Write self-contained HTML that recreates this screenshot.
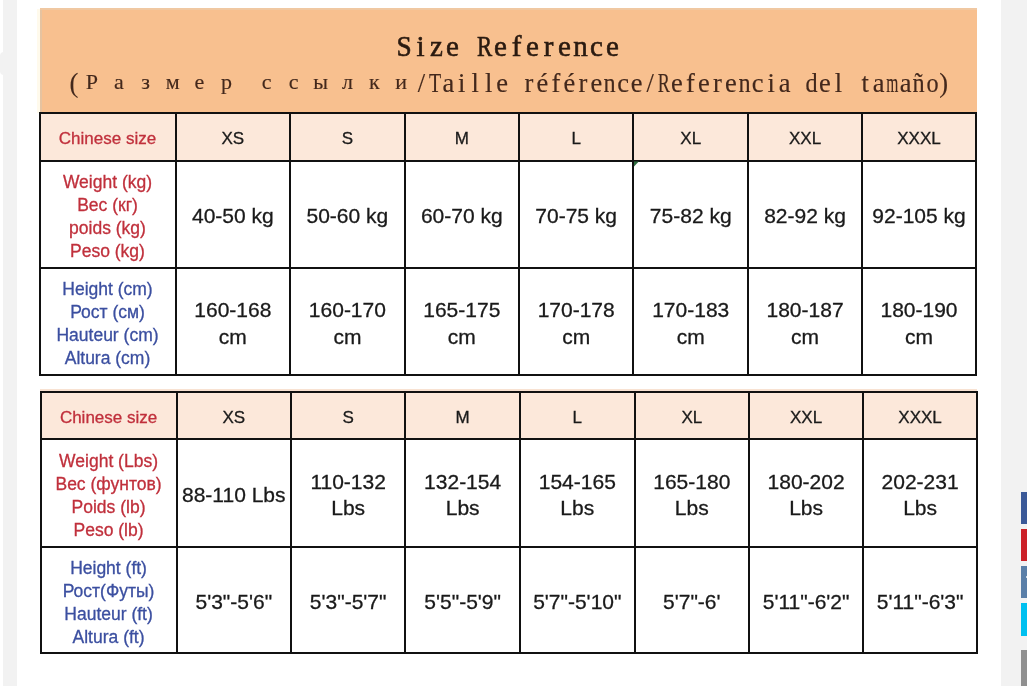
<!DOCTYPE html>
<html><head><meta charset="utf-8"><title>Size Reference</title>
<style>
*{margin:0;padding:0;box-sizing:border-box}
html,body{width:1027px;height:686px;overflow:hidden;background:#fff}
body{position:relative;font-family:"Liberation Sans",Arial,sans-serif}
.abs{position:absolute}
.ch{position:absolute;text-align:center;display:block;font-family:"Liberation Serif","Noto Serif CJK SC",serif;}
.t{color:#2a1a10;-webkit-text-stroke:0.6px #2a1a10}
.s{color:#43281c;-webkit-text-stroke:0.15px #43281c}
.bg,.ln,.cell{position:absolute}
.ln{background:#111}
.cell{display:flex;align-items:center;justify-content:center;text-align:center}
.cell>div{position:relative}
.hl{color:#c0303c;font-size:17px}
.hl>div{top:2px}
.hd{color:#1a1a1a;font-size:17px}
.hd>div{top:2px}
.rl{color:#c0303c;font-size:17.5px;line-height:23px}
.bl{color:#3b4fa0;font-size:17.5px;line-height:23px}
.rl>div,.bl>div{top:3px}
.dt{color:#1a1a1a;font-size:21px;line-height:26.5px}
.dt>div{top:2.5px}
.cell{-webkit-text-stroke:0.3px currentColor}
</style></head>
<body>
<div class="abs" style="left:3px;top:0;width:14px;height:686px;background:#f2f2f2"></div>
<div class="abs" style="left:0;top:52px;width:17px;height:23px;background:#f2f2f2;border-radius:4px 0 0 4px"></div>
<div class="abs" style="left:1001px;top:0;width:26px;height:686px;background:#f2f2f2"></div>
<div class="abs" style="left:1021px;top:491.5px;width:10px;height:32.5px;background:#3b5998"></div>
<div class="abs" style="left:1021px;top:529px;width:10px;height:32px;background:#cb2027"></div>
<div class="abs" style="left:1021px;top:565.5px;width:10px;height:32.5px;background:#5a7fa8"></div>
<div class="abs" style="left:1021px;top:603px;width:10px;height:32.5px;background:#00c0f0"></div>
<div class="abs" style="left:1021px;top:650px;width:10px;height:50px;background:#909090"></div>
<div class="abs" style="left:1025.5px;top:576px;width:2px;height:2px;background:#f4f6fa;border-radius:1px"></div>
<div class="abs" style="left:40px;top:9px;width:937px;height:104px;background:#f8c08f"></div>
<div class="abs" style="left:37px;top:9px;width:3px;height:104px;background:#fffaec"></div>
<div class="abs" style="left:40px;top:9px;width:2px;height:104px;background:#e6c3a0"></div>
<div class="abs" style="left:40px;top:8px;width:937px;height:1.5px;background:#f0c8a2"></div>
<span class="ch t" style="left:396.44px;top:31.51px;width:16.13px;font-size:29px;line-height:29px;transform:scaleX(0.942)">S</span><span class="ch t" style="left:412.50px;top:31.51px;width:16.00px;font-size:29px;line-height:29px">i</span><span class="ch t" style="left:428.50px;top:31.51px;width:16.00px;font-size:29px;line-height:29px">z</span><span class="ch t" style="left:444.50px;top:31.51px;width:16.00px;font-size:29px;line-height:29px">e</span><span class="ch t" style="left:474.83px;top:31.51px;width:19.34px;font-size:29px;line-height:29px;transform:scaleX(0.786)">R</span><span class="ch t" style="left:492.50px;top:31.51px;width:16.00px;font-size:29px;line-height:29px">e</span><span class="ch t" style="left:508.50px;top:31.51px;width:16.00px;font-size:29px;line-height:29px">f</span><span class="ch t" style="left:524.50px;top:31.51px;width:16.00px;font-size:29px;line-height:29px">e</span><span class="ch t" style="left:540.50px;top:31.51px;width:16.00px;font-size:29px;line-height:29px">r</span><span class="ch t" style="left:556.50px;top:31.51px;width:16.00px;font-size:29px;line-height:29px">e</span><span class="ch t" style="left:572.50px;top:31.51px;width:16.00px;font-size:29px;line-height:29px">n</span><span class="ch t" style="left:588.50px;top:31.51px;width:16.00px;font-size:29px;line-height:29px">c</span><span class="ch t" style="left:604.50px;top:31.51px;width:16.00px;font-size:29px;line-height:29px">e</span>
<span class="ch s" style="left:65.00px;top:69.91px;width:13.45px;font-size:26.5px;line-height:26.5px;text-align:right">(</span><span class="ch s" style="left:78.45px;top:70.78px;width:26.90px;font-size:22px;line-height:22px">Р</span><span class="ch s" style="left:105.35px;top:70.78px;width:26.90px;font-size:22px;line-height:22px">а</span><span class="ch s" style="left:132.25px;top:70.78px;width:26.90px;font-size:22px;line-height:22px">з</span><span class="ch s" style="left:159.15px;top:70.78px;width:26.90px;font-size:22px;line-height:22px">м</span><span class="ch s" style="left:186.05px;top:70.78px;width:26.90px;font-size:22px;line-height:22px">е</span><span class="ch s" style="left:212.95px;top:70.78px;width:26.90px;font-size:22px;line-height:22px">р</span><span class="ch s" style="left:253.30px;top:70.78px;width:26.90px;font-size:22px;line-height:22px">с</span><span class="ch s" style="left:280.20px;top:70.78px;width:26.90px;font-size:22px;line-height:22px">с</span><span class="ch s" style="left:307.10px;top:70.78px;width:26.90px;font-size:22px;line-height:22px">ы</span><span class="ch s" style="left:334.00px;top:70.78px;width:26.90px;font-size:22px;line-height:22px">л</span><span class="ch s" style="left:360.90px;top:70.78px;width:26.90px;font-size:22px;line-height:22px">к</span><span class="ch s" style="left:387.80px;top:70.78px;width:26.90px;font-size:22px;line-height:22px">и</span><span class="ch s" style="left:414.70px;top:69.91px;width:13.45px;font-size:26.5px;line-height:26.5px">/</span><span class="ch s" style="left:426.78px;top:69.91px;width:16.19px;font-size:26.5px;line-height:26.5px;transform:scaleX(0.748)">T</span><span class="ch s" style="left:441.60px;top:69.91px;width:13.45px;font-size:26.5px;line-height:26.5px">a</span><span class="ch s" style="left:455.05px;top:69.91px;width:13.45px;font-size:26.5px;line-height:26.5px">i</span><span class="ch s" style="left:468.50px;top:69.91px;width:13.45px;font-size:26.5px;line-height:26.5px">l</span><span class="ch s" style="left:481.95px;top:69.91px;width:13.45px;font-size:26.5px;line-height:26.5px">l</span><span class="ch s" style="left:495.40px;top:69.91px;width:13.45px;font-size:26.5px;line-height:26.5px">e</span><span class="ch s" style="left:522.30px;top:69.91px;width:13.45px;font-size:26.5px;line-height:26.5px">r</span><span class="ch s" style="left:535.75px;top:69.91px;width:13.45px;font-size:26.5px;line-height:26.5px">é</span><span class="ch s" style="left:549.20px;top:69.91px;width:13.45px;font-size:26.5px;line-height:26.5px">f</span><span class="ch s" style="left:562.65px;top:69.91px;width:13.45px;font-size:26.5px;line-height:26.5px">é</span><span class="ch s" style="left:576.10px;top:69.91px;width:13.45px;font-size:26.5px;line-height:26.5px">r</span><span class="ch s" style="left:589.55px;top:69.91px;width:13.45px;font-size:26.5px;line-height:26.5px">e</span><span class="ch s" style="left:603.10px;top:69.91px;width:13.25px;font-size:26.5px;line-height:26.5px;transform:scaleX(0.914)">n</span><span class="ch s" style="left:616.45px;top:69.91px;width:13.45px;font-size:26.5px;line-height:26.5px">c</span><span class="ch s" style="left:629.90px;top:69.91px;width:13.45px;font-size:26.5px;line-height:26.5px">e</span><span class="ch s" style="left:643.35px;top:69.91px;width:13.45px;font-size:26.5px;line-height:26.5px">/</span><span class="ch s" style="left:654.69px;top:69.91px;width:17.68px;font-size:26.5px;line-height:26.5px;transform:scaleX(0.685)">R</span><span class="ch s" style="left:670.25px;top:69.91px;width:13.45px;font-size:26.5px;line-height:26.5px">e</span><span class="ch s" style="left:683.70px;top:69.91px;width:13.45px;font-size:26.5px;line-height:26.5px">f</span><span class="ch s" style="left:697.15px;top:69.91px;width:13.45px;font-size:26.5px;line-height:26.5px">e</span><span class="ch s" style="left:710.60px;top:69.91px;width:13.45px;font-size:26.5px;line-height:26.5px">r</span><span class="ch s" style="left:724.05px;top:69.91px;width:13.45px;font-size:26.5px;line-height:26.5px">e</span><span class="ch s" style="left:737.60px;top:69.91px;width:13.25px;font-size:26.5px;line-height:26.5px;transform:scaleX(0.914)">n</span><span class="ch s" style="left:750.95px;top:69.91px;width:13.45px;font-size:26.5px;line-height:26.5px">c</span><span class="ch s" style="left:764.40px;top:69.91px;width:13.45px;font-size:26.5px;line-height:26.5px">i</span><span class="ch s" style="left:777.85px;top:69.91px;width:13.45px;font-size:26.5px;line-height:26.5px">a</span><span class="ch s" style="left:804.85px;top:69.91px;width:13.25px;font-size:26.5px;line-height:26.5px;transform:scaleX(0.914)">d</span><span class="ch s" style="left:818.20px;top:69.91px;width:13.45px;font-size:26.5px;line-height:26.5px">e</span><span class="ch s" style="left:831.65px;top:69.91px;width:13.45px;font-size:26.5px;line-height:26.5px">l</span><span class="ch s" style="left:858.55px;top:69.91px;width:13.45px;font-size:26.5px;line-height:26.5px">t</span><span class="ch s" style="left:872.00px;top:69.91px;width:13.45px;font-size:26.5px;line-height:26.5px">a</span><span class="ch s" style="left:881.87px;top:69.91px;width:20.61px;font-size:26.5px;line-height:26.5px;transform:scaleX(0.587)">m</span><span class="ch s" style="left:898.90px;top:69.91px;width:13.45px;font-size:26.5px;line-height:26.5px">a</span><span class="ch s" style="left:912.45px;top:69.91px;width:13.25px;font-size:26.5px;line-height:26.5px;transform:scaleX(0.914)">ñ</span><span class="ch s" style="left:925.90px;top:69.91px;width:13.25px;font-size:26.5px;line-height:26.5px;transform:scaleX(0.914)">o</span><span class="ch s" style="left:939.25px;top:69.91px;width:13.45px;font-size:26.5px;line-height:26.5px;text-align:left">)</span>
<div class="bg" style="left:39.5px;top:113px;width:936.5px;height:47.5px;background:#fce8da"></div>
<div class="cell hl" style="left:39.5px;top:113px;width:136.0px;height:47.5px"><div>Chinese size</div></div>
<div class="cell hd" style="left:175.5px;top:113px;width:114.69999999999999px;height:47.5px"><div>XS</div></div>
<div class="cell hd" style="left:290.2px;top:113px;width:114.40000000000003px;height:47.5px"><div>S</div></div>
<div class="cell hd" style="left:404.6px;top:113px;width:114.39999999999998px;height:47.5px"><div>M</div></div>
<div class="cell hd" style="left:519px;top:113px;width:114.39999999999998px;height:47.5px"><div>L</div></div>
<div class="cell hd" style="left:633.4px;top:113px;width:114.70000000000005px;height:47.5px"><div>XL</div></div>
<div class="cell hd" style="left:748.1px;top:113px;width:113.89999999999998px;height:47.5px"><div>XXL</div></div>
<div class="cell hd" style="left:862px;top:113px;width:114px;height:47.5px"><div>XXXL</div></div>
<div class="cell rl" style="left:39.5px;top:160.5px;width:136.0px;height:107.0px"><div>Weight (kg)<br>Вес (кг)<br>poids (kg)<br>Peso (kg)</div></div>
<div class="cell dt" style="left:175.5px;top:160.5px;width:114.69999999999999px;height:107.0px"><div>40-50 kg</div></div>
<div class="cell dt" style="left:290.2px;top:160.5px;width:114.40000000000003px;height:107.0px"><div>50-60 kg</div></div>
<div class="cell dt" style="left:404.6px;top:160.5px;width:114.39999999999998px;height:107.0px"><div>60-70 kg</div></div>
<div class="cell dt" style="left:519px;top:160.5px;width:114.39999999999998px;height:107.0px"><div>70-75 kg</div></div>
<div class="cell dt" style="left:633.4px;top:160.5px;width:114.70000000000005px;height:107.0px"><div>75-82 kg</div></div>
<div class="cell dt" style="left:748.1px;top:160.5px;width:113.89999999999998px;height:107.0px"><div>82-92 kg</div></div>
<div class="cell dt" style="left:862px;top:160.5px;width:114px;height:107.0px"><div>92-105 kg</div></div>
<div class="cell bl" style="left:39.5px;top:267.5px;width:136.0px;height:107.0px"><div>Height (cm)<br>Рост (см)<br>Hauteur (cm)<br>Altura (cm)</div></div>
<div class="cell dt" style="left:175.5px;top:267.5px;width:114.69999999999999px;height:107.0px"><div>160-168<br>cm</div></div>
<div class="cell dt" style="left:290.2px;top:267.5px;width:114.40000000000003px;height:107.0px"><div>160-170<br>cm</div></div>
<div class="cell dt" style="left:404.6px;top:267.5px;width:114.39999999999998px;height:107.0px"><div>165-175<br>cm</div></div>
<div class="cell dt" style="left:519px;top:267.5px;width:114.39999999999998px;height:107.0px"><div>170-178<br>cm</div></div>
<div class="cell dt" style="left:633.4px;top:267.5px;width:114.70000000000005px;height:107.0px"><div>170-183<br>cm</div></div>
<div class="cell dt" style="left:748.1px;top:267.5px;width:113.89999999999998px;height:107.0px"><div>180-187<br>cm</div></div>
<div class="cell dt" style="left:862px;top:267.5px;width:114px;height:107.0px"><div>180-190<br>cm</div></div>
<div class="ln" style="left:38.50px;top:112.00px;width:2px;height:263.5px"></div>
<div class="ln" style="left:174.50px;top:112.00px;width:2px;height:263.5px"></div>
<div class="ln" style="left:289.20px;top:112.00px;width:2px;height:263.5px"></div>
<div class="ln" style="left:403.60px;top:112.00px;width:2px;height:263.5px"></div>
<div class="ln" style="left:518.00px;top:112.00px;width:2px;height:263.5px"></div>
<div class="ln" style="left:632.40px;top:112.00px;width:2px;height:263.5px"></div>
<div class="ln" style="left:747.10px;top:112.00px;width:2px;height:263.5px"></div>
<div class="ln" style="left:861.00px;top:112.00px;width:2px;height:263.5px"></div>
<div class="ln" style="left:975.00px;top:112.00px;width:2px;height:263.5px"></div>
<div class="ln" style="left:38.50px;top:112.00px;width:938.5px;height:2px"></div>
<div class="ln" style="left:38.50px;top:159.50px;width:938.5px;height:2px"></div>
<div class="ln" style="left:38.50px;top:266.50px;width:938.5px;height:2px"></div>
<div class="ln" style="left:38.50px;top:373.50px;width:938.5px;height:2px"></div>
<div class="abs" style="left:40px;top:389px;width:937px;height:2px;background:#f8e2d2"></div>
<div class="bg" style="left:40.5px;top:392px;width:936.5px;height:47px;background:#fce8da"></div>
<div class="cell hl" style="left:40.5px;top:392px;width:136.1px;height:47px"><div>Chinese size</div></div>
<div class="cell hd" style="left:176.6px;top:392px;width:114.4px;height:47px"><div>XS</div></div>
<div class="cell hd" style="left:291px;top:392px;width:114.30000000000001px;height:47px"><div>S</div></div>
<div class="cell hd" style="left:405.3px;top:392px;width:114.69999999999999px;height:47px"><div>M</div></div>
<div class="cell hd" style="left:520px;top:392px;width:114.60000000000002px;height:47px"><div>L</div></div>
<div class="cell hd" style="left:634.6px;top:392px;width:114.39999999999998px;height:47px"><div>XL</div></div>
<div class="cell hd" style="left:749px;top:392px;width:114.20000000000005px;height:47px"><div>XXL</div></div>
<div class="cell hd" style="left:863.2px;top:392px;width:113.79999999999995px;height:47px"><div>XXXL</div></div>
<div class="cell rl" style="left:40.5px;top:439px;width:136.1px;height:107.5px"><div>Weight (Lbs)<br>Вес (фунтов)<br>Poids (lb)<br>Peso (lb)</div></div>
<div class="cell dt" style="left:176.6px;top:439px;width:114.4px;height:107.5px"><div>88-110 Lbs</div></div>
<div class="cell dt" style="left:291px;top:439px;width:114.30000000000001px;height:107.5px"><div>110-132<br>Lbs</div></div>
<div class="cell dt" style="left:405.3px;top:439px;width:114.69999999999999px;height:107.5px"><div>132-154<br>Lbs</div></div>
<div class="cell dt" style="left:520px;top:439px;width:114.60000000000002px;height:107.5px"><div>154-165<br>Lbs</div></div>
<div class="cell dt" style="left:634.6px;top:439px;width:114.39999999999998px;height:107.5px"><div>165-180<br>Lbs</div></div>
<div class="cell dt" style="left:749px;top:439px;width:114.20000000000005px;height:107.5px"><div>180-202<br>Lbs</div></div>
<div class="cell dt" style="left:863.2px;top:439px;width:113.79999999999995px;height:107.5px"><div>202-231<br>Lbs</div></div>
<div class="cell bl" style="left:40.5px;top:546.5px;width:136.1px;height:106.0px"><div>Height (ft)<br>Рост(Футы)<br>Hauteur (ft)<br>Altura (ft)</div></div>
<div class="cell dt" style="left:176.6px;top:546.5px;width:114.4px;height:106.0px"><div>5'3"-5'6"</div></div>
<div class="cell dt" style="left:291px;top:546.5px;width:114.30000000000001px;height:106.0px"><div>5'3"-5'7"</div></div>
<div class="cell dt" style="left:405.3px;top:546.5px;width:114.69999999999999px;height:106.0px"><div>5'5"-5'9"</div></div>
<div class="cell dt" style="left:520px;top:546.5px;width:114.60000000000002px;height:106.0px"><div>5'7"-5'10"</div></div>
<div class="cell dt" style="left:634.6px;top:546.5px;width:114.39999999999998px;height:106.0px"><div>5'7"-6'</div></div>
<div class="cell dt" style="left:749px;top:546.5px;width:114.20000000000005px;height:106.0px"><div>5'11"-6'2"</div></div>
<div class="cell dt" style="left:863.2px;top:546.5px;width:113.79999999999995px;height:106.0px"><div>5'11"-6'3"</div></div>
<div class="ln" style="left:39.50px;top:391.00px;width:2px;height:262.5px"></div>
<div class="ln" style="left:175.60px;top:391.00px;width:2px;height:262.5px"></div>
<div class="ln" style="left:290.00px;top:391.00px;width:2px;height:262.5px"></div>
<div class="ln" style="left:404.30px;top:391.00px;width:2px;height:262.5px"></div>
<div class="ln" style="left:519.00px;top:391.00px;width:2px;height:262.5px"></div>
<div class="ln" style="left:633.60px;top:391.00px;width:2px;height:262.5px"></div>
<div class="ln" style="left:748.00px;top:391.00px;width:2px;height:262.5px"></div>
<div class="ln" style="left:862.20px;top:391.00px;width:2px;height:262.5px"></div>
<div class="ln" style="left:976.00px;top:391.00px;width:2px;height:262.5px"></div>
<div class="ln" style="left:39.50px;top:391.00px;width:938.5px;height:2px"></div>
<div class="ln" style="left:39.50px;top:438.00px;width:938.5px;height:2px"></div>
<div class="ln" style="left:39.50px;top:545.50px;width:938.5px;height:2px"></div>
<div class="ln" style="left:39.50px;top:651.50px;width:938.5px;height:2px"></div>
<svg class="abs" style="left:0;top:0" width="1027" height="686"><polygon points="634,161.5 638.8,161.5 634,166.5" fill="#2d6b3e"/></svg>
</body></html>
